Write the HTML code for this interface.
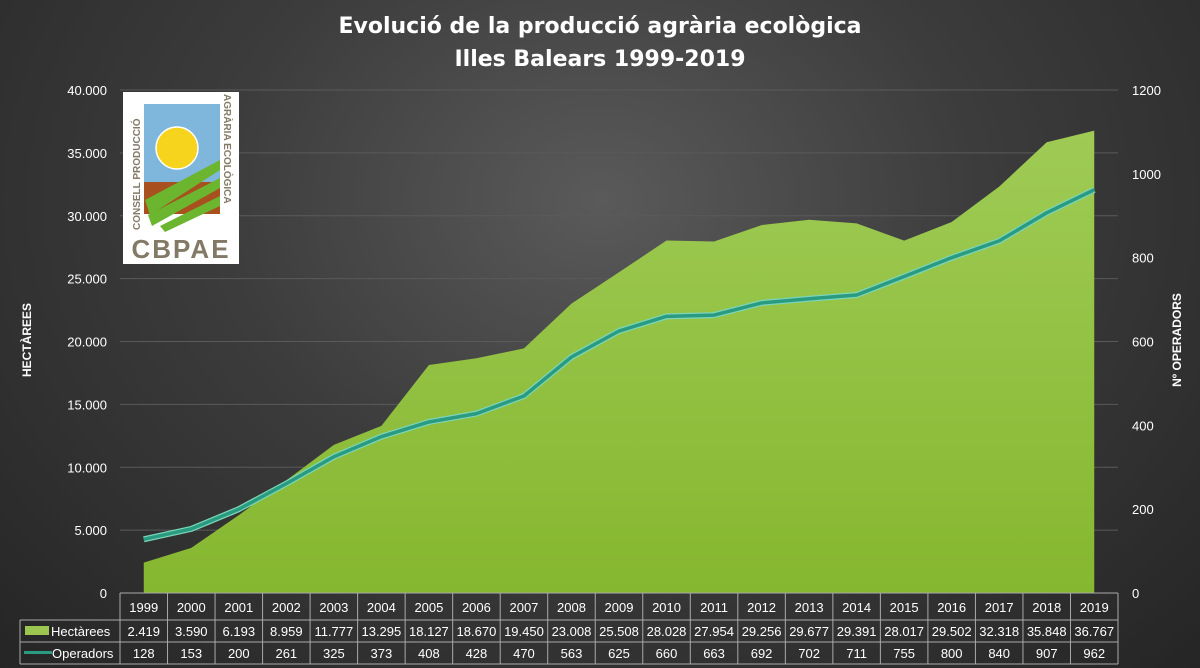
<!DOCTYPE html>
<html><head><meta charset="utf-8"><style>
html,body{margin:0;padding:0;}
body{width:1200px;height:668px;overflow:hidden;background:radial-gradient(ellipse at 50% 30%,#5a5a5a 0%,#3c3c3c 45%,#252525 100%);font-family:"Liberation Sans","DejaVu Sans",sans-serif;}
</style></head><body>
<svg id="chart" width="1200" height="668" xmlns="http://www.w3.org/2000/svg" style="position:absolute;left:0;top:0">
<defs>
<linearGradient id="ag" x1="0" y1="0" x2="0" y2="1"><stop offset="0" stop-color="#9fcb55"/><stop offset="1" stop-color="#86b730"/></linearGradient>
</defs>
<text x="600" y="33" text-anchor="middle" fill="#fff" font-size="22" font-weight="bold" font-family="DejaVu Sans,sans-serif">Evolució de la producció agrària ecològica</text>
<text x="600" y="66" text-anchor="middle" fill="#fff" font-size="22" font-weight="bold" font-family="DejaVu Sans,sans-serif">Illes Balears 1999-2019</text>
<g id="grid"></g><g id="marks"></g><g id="axes"></g><g id="table"></g>
<text transform="translate(31,340) rotate(-90)" text-anchor="middle" fill="#fff" font-size="12" font-weight="bold">HECTÀREES</text>
<text transform="translate(1181,340) rotate(-90)" text-anchor="middle" fill="#fff" font-size="12" font-weight="bold">Nº OPERADORS</text>
<g>
<rect x="123" y="92" width="116" height="172" fill="#fff"/>
<rect x="144" y="104" width="76" height="78" fill="#7fb6dc"/>
<rect x="144" y="182" width="76" height="32" fill="#a8501e"/>
<circle cx="177" cy="148" r="21" fill="#f6d41e" stroke="#fff" stroke-width="1.5"/>
<path d="M145 200 L220 160 L220 170 L150 215Z" fill="#6cb52e"/>
<path d="M148 215 L220 178 L220 188 L152 226Z" fill="#6cb52e"/>
<path d="M160 226 L220 196 L220 206 L165 232Z" fill="#6cb52e"/>
<text transform="translate(140,230) rotate(-90)" fill="#827a66" font-size="10" font-weight="bold">CONSELL PRODUCCIÓ</text>
<text transform="translate(224,94) rotate(90)" fill="#827a66" font-size="10" font-weight="bold">AGRÀRIA ECOLÒGICA</text>
<text x="181" y="258" text-anchor="middle" fill="#827a66" font-size="26" font-weight="bold" letter-spacing="2">CBPAE</text>
</g>
</svg>
<script>
const years=["1999","2000","2001","2002","2003","2004","2005","2006","2007","2008","2009","2010","2011","2012","2013","2014","2015","2016","2017","2018","2019"];
const hectarees=[2419,3590,6193,8959,11777,13295,18127,18670,19450,23008,25508,28028,27954,29256,29677,29391,28017,29502,32318,35848,36767];
const operadors=[128,153,200,261,325,373,408,428,470,563,625,660,663,692,702,711,755,800,840,907,962];
const leftTicks=[0,5000,10000,15000,20000,25000,30000,35000,40000];
const rightTicks=[0,200,400,600,800,1000,1200];
const NS="http://www.w3.org/2000/svg";
const X0=120,X1=1118,Y0=593,Y1=90,CW=(X1-X0)/years.length;
const xc=i=>X0+CW*(i+0.5);
const yl=v=>Y0-(v/40000)*(Y0-Y1);
const yr=v=>Y0-(v/1200)*(Y0-Y1);
const fmt=v=>v.toLocaleString('de-DE');
function mk(tag,attrs,parent,text){const e=document.createElementNS(NS,tag);for(const k in attrs)e.setAttribute(k,attrs[k]);if(text!==undefined)e.textContent=text;parent.appendChild(e);return e;}
const grid=document.getElementById('grid'),marks=document.getElementById('marks'),axes=document.getElementById('axes'),tbl=document.getElementById('table');
leftTicks.forEach(t=>{const y=yl(t);
 const l=mk('line',{x1:X0,x2:X1,y1:y,y2:y,stroke:'#5a5a5a','stroke-width':1},grid);
 
 
 const tx=mk('text',{x:107,y:y+5,'text-anchor':'end',fill:'#fff','font-size':13},axes,fmt(t));
 
 });
rightTicks.forEach(t=>{const tx=mk('text',{x:1132,y:yr(t)+5,fill:'#fff','font-size':13},axes,String(t));
 
 });
let d=`M${xc(0)} ${Y0}`;hectarees.forEach((v,i)=>d+=` L${xc(i)} ${yl(v)}`);d+=` L${xc(years.length-1)} ${Y0}Z`;
const area=mk('path',{d:d,fill:'url(#ag)'},marks);


const pts=operadors.map((v,i)=>`${xc(i)},${yr(v)}`).join(' ');
const ls=mk('polyline',{points:pts,fill:'none',stroke:'#7ad6b8','stroke-width':6,'stroke-linejoin':'round'},marks);


const ln=mk('polyline',{points:pts,fill:'none',stroke:'#2a9a80','stroke-width':3.5,'stroke-linejoin':'round'},marks);


const R=[593,620,642,664],LX=20;
const st={stroke:'#aaa','stroke-width':1};
mk('line',Object.assign({x1:X0,x2:X1,y1:R[0],y2:R[0]},st),tbl);
mk('line',Object.assign({x1:LX,x2:X1,y1:R[1],y2:R[1]},st),tbl);
mk('line',Object.assign({x1:LX,x2:X1,y1:R[2],y2:R[2]},st),tbl);
mk('line',Object.assign({x1:LX,x2:X1,y1:R[3],y2:R[3]},st),tbl);
mk('line',Object.assign({x1:LX,x2:LX,y1:R[1],y2:R[3]},st),tbl);
for(let i=0;i<=years.length;i++){const x=X0+CW*i;mk('line',Object.assign({x1:x,x2:x,y1:R[0],y2:R[3]},st),tbl);}
years.forEach((y,i)=>{
 const a=mk('text',{x:xc(i),y:612,'text-anchor':'middle',fill:'#fff','font-size':13},tbl,y);
 
 
 const b=mk('text',{x:xc(i),y:636,'text-anchor':'middle',fill:'#fff','font-size':13},tbl,fmt(hectarees[i]));
 
 
 const c=mk('text',{x:xc(i),y:658,'text-anchor':'middle',fill:'#fff','font-size':13},tbl,String(operadors[i]));
 
 
});
const k1=mk('rect',{x:25,y:626,width:24,height:9,fill:'#9bc750'},tbl);


const t1=mk('text',{x:51,y:636,fill:'#fff','font-size':13},tbl,'Hectàrees');


const k2=mk('rect',{x:24,y:651,width:28,height:3,fill:'#2a9a80'},tbl);


const t2=mk('text',{x:52,y:658,fill:'#fff','font-size':13},tbl,'Operadors');


</script>
</body></html>
